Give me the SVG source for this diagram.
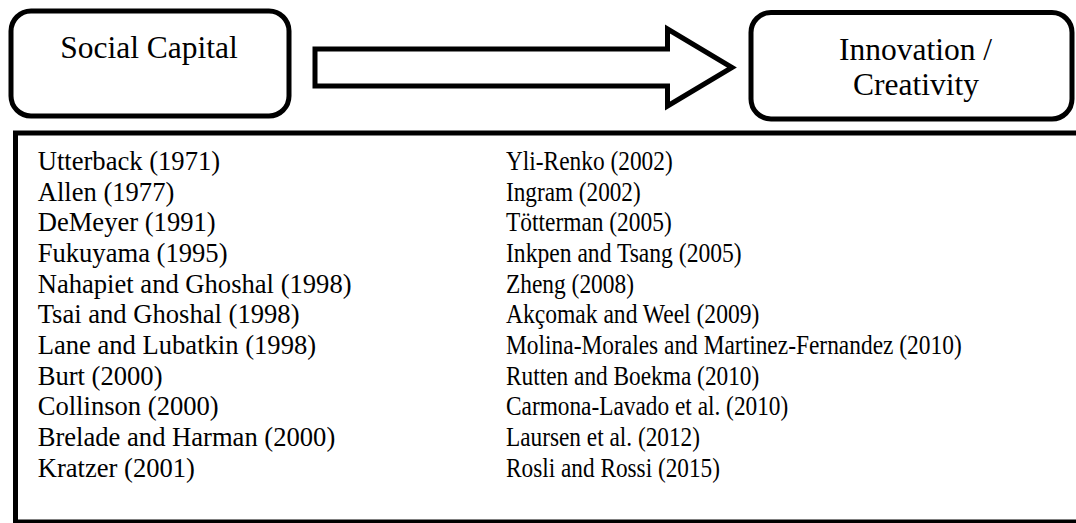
<svg xmlns="http://www.w3.org/2000/svg" width="1076" height="523" viewBox="0 0 1076 523">
<style>
.box{fill:#fff;stroke:#000;stroke-width:5}
.t{font-family:"Liberation Serif","Times New Roman",serif;fill:#000}
.h{font-size:31.5px;text-anchor:middle}
.l{font-size:26.6px}
</style>
<rect width="1076" height="523" fill="#fff"/>
<g id="social-capital">
<rect class="box" x="11" y="11" width="278" height="105" rx="20" ry="20"/>
<text class="t h" x="149" y="58">Social Capital</text>
</g>
<g id="connectors">
<polygon class="box" stroke-linejoin="miter" points="315,49 667.5,49 667.5,29 732,67.5 667.5,106 667.5,86 315,86"/>
</g>
<g id="innovation">
<rect class="box" x="751" y="12.5" width="321" height="106.5" rx="20" ry="20"/>
<text class="t h" x="915.5" y="60">Innovation /</text>
<text class="t h" x="916" y="95">Creativity</text>
</g>
<g id="references">
<rect class="box" x="15.5" y="133" width="1100" height="389"/>
<g class="t l">
<text x="37.7" y="170">Utterback (1971)</text>
<text x="37.7" y="200.7">Allen (1977)</text>
<text x="37.7" y="231.3">DeMeyer (1991)</text>
<text x="37.7" y="262">Fukuyama (1995)</text>
<text x="37.7" y="292.7">Nahapiet and Ghoshal (1998)</text>
<text x="37.7" y="323.3">Tsai and Ghoshal (1998)</text>
<text x="37.7" y="354">Lane and Lubatkin (1998)</text>
<text x="37.7" y="384.7">Burt (2000)</text>
<text x="37.7" y="415.3">Collinson (2000)</text>
<text x="37.7" y="446">Brelade and Harman (2000)</text>
<text x="37.7" y="476.7">Kratzer (2001)</text>
<text x="506" y="170" textLength="166.7" lengthAdjust="spacingAndGlyphs">Yli-Renko (2002)</text>
<text x="506" y="200.7" textLength="134.7" lengthAdjust="spacingAndGlyphs">Ingram (2002)</text>
<text x="506" y="231.3" textLength="165.7" lengthAdjust="spacingAndGlyphs">Tötterman (2005)</text>
<text x="506" y="262" textLength="235.7" lengthAdjust="spacingAndGlyphs">Inkpen and Tsang (2005)</text>
<text x="506" y="292.7" textLength="128" lengthAdjust="spacingAndGlyphs">Zheng (2008)</text>
<text x="506" y="323.3" textLength="253.3" lengthAdjust="spacingAndGlyphs">Akçomak and Weel (2009)</text>
<text x="506" y="354" textLength="455.7" lengthAdjust="spacingAndGlyphs">Molina-Morales and Martinez-Fernandez (2010)</text>
<text x="506" y="384.7" textLength="253.3" lengthAdjust="spacingAndGlyphs">Rutten and Boekma (2010)</text>
<text x="506" y="415.3" textLength="282.3" lengthAdjust="spacingAndGlyphs">Carmona-Lavado et al. (2010)</text>
<text x="506" y="446" textLength="194" lengthAdjust="spacingAndGlyphs">Laursen et al. (2012)</text>
<text x="506" y="476.7" textLength="214" lengthAdjust="spacingAndGlyphs">Rosli and Rossi (2015)</text>
</g>
</g>
</svg>
